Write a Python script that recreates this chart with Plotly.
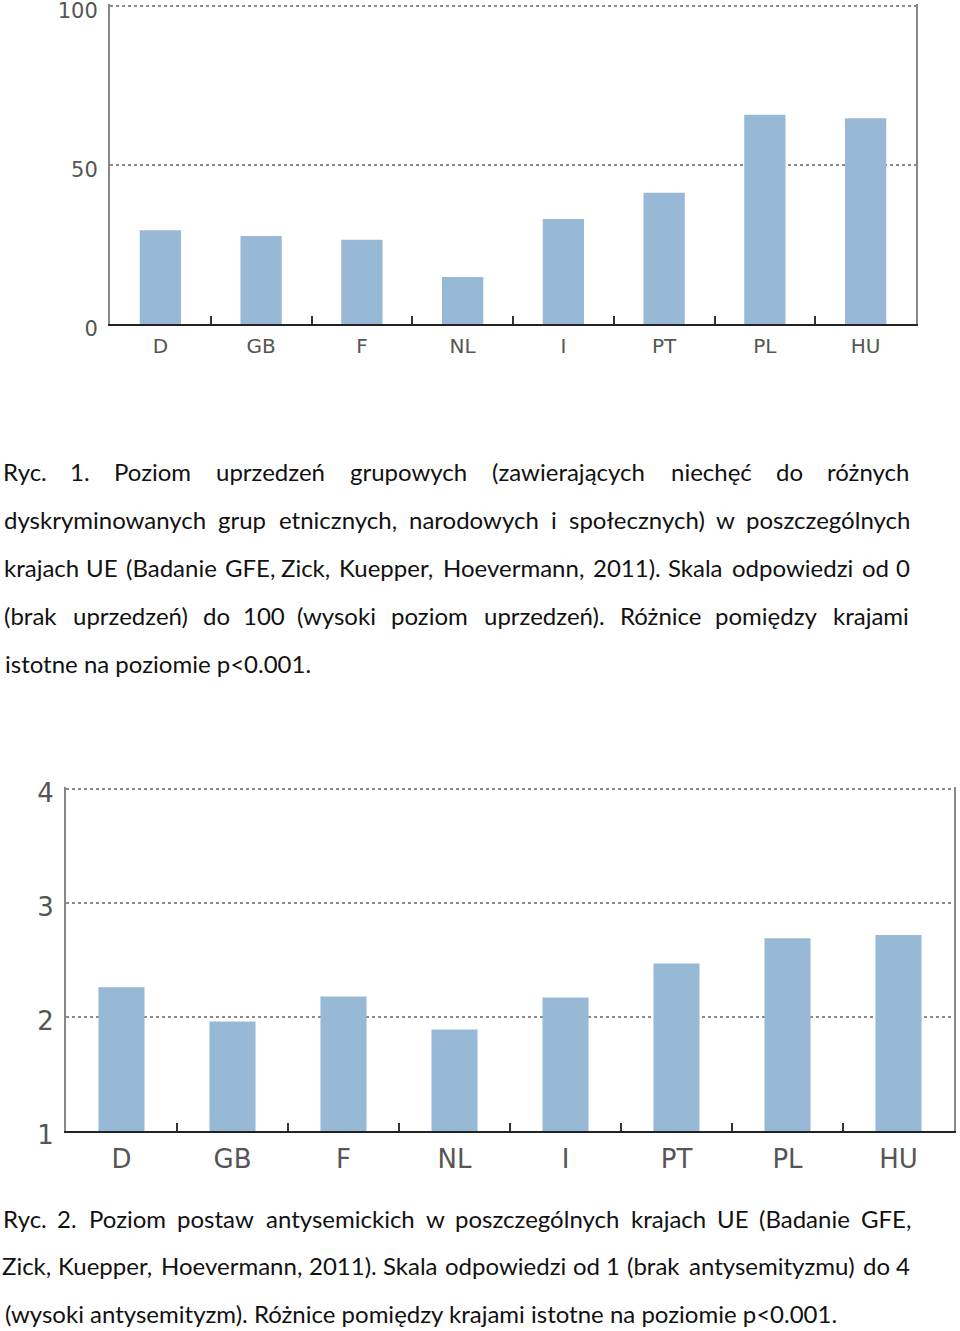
import plotly.graph_objects as go

# ---------------- data ----------------
countries = ["D", "GB", "F", "NL", "I", "PT", "PL", "HU"]
prejudice = [29.5, 27.7, 26.5, 14.8, 33.0, 41.3, 65.8, 64.7]          # Ryc. 1, scale 0-100
antisemitism = [2.26, 1.96, 2.18, 1.89, 2.17, 2.47, 2.69, 2.72]      # Ryc. 2, scale 1-4

y1_ticks = [0, 50, 100]
y2_ticks = [1, 2, 3, 4]

caption1 = [
    "Ryc. 1. Poziom uprzedzeń grupowych (zawierających niechęć do różnych",
    "dyskryminowanych grup etnicznych, narodowych i społecznych) w poszczególnych",
    "krajach UE (Badanie GFE, Zick, Kuepper, Hoevermann, 2011). Skala odpowiedzi od 0",
    "(brak uprzedzeń) do 100 (wysoki poziom uprzedzeń). Różnice pomiędzy krajami",
    "istotne na poziomie p<0.001.",
]
caption2 = [
    "Ryc. 2. Poziom postaw antysemickich w poszczególnych krajach UE (Badanie GFE,",
    "Zick, Kuepper, Hoevermann, 2011). Skala odpowiedzi od 1 (brak antysemityzmu) do 4",
    "(wysoki antysemityzm). Różnice pomiędzy krajami istotne na poziomie p<0.001.",
]

# ---------------- layout helpers ----------------
W, H = 960, 1331
BAR_COLOR = "#98B9D5"
TICK_FONT = "DejaVu Sans"
CAP_FONT = "Lato"

def px_x(x):
    return x / W

def px_y(y):
    return 1 - y / H

# approximate advance widths (em) of the original caption typeface, used to justify lines
CAL = {
    " ": .226, "(": .303, ")": .303, ",": .250, ".": .252, "<": .498,
    "A": .579, "B": .544, "C": .533, "D": .615, "E": .488, "F": .459, "G": .631,
    "H": .623, "K": .520, "P": .517, "R": .543, "S": .459, "U": .642, "Z": .487,
    "a": .479, "b": .525, "c": .423, "d": .525, "e": .498, "f": .305, "g": .471,
    "h": .525, "i": .229, "j": .239, "k": .455, "l": .229, "m": .799, "n": .525,
    "o": .527, "p": .525, "r": .349, "s": .391, "t": .335, "u": .525, "v": .452,
    "w": .715, "y": .453, "z": .395, "ł": .240, "ą": .479, "ę": .498, "ć": .423,
    "ń": .525, "ó": .527, "ż": .395,
}
for d in "0123456789":
    CAL[d] = .507
CAL_SIZE = 26
LEFT, RIGHT = 3, 910

def word_w(w):
    return sum(CAL.get(ch, .5) for ch in w) * CAL_SIZE

annotations = []
CAP_STYLE = dict(family=CAP_FONT, size=24, color="#111")

def add_paragraph(lines, y0, step):
    for i, line in enumerate(lines):
        y = y0 + i * step
        if i == len(lines) - 1:
            annotations.append(dict(
                text=line, x=px_x(LEFT), y=px_y(y), xref="paper", yref="paper",
                xanchor="left", yanchor="middle", showarrow=False, font=CAP_STYLE))
            continue
        words = line.split(" ")
        widths = [word_w(w) for w in words]
        gap = (RIGHT - LEFT - sum(widths)) / (len(words) - 1)
        x = LEFT
        for w, wd in zip(words, widths):
            annotations.append(dict(
                text=w, x=px_x(x + wd / 2), y=px_y(y), xref="paper", yref="paper",
                xanchor="center", yanchor="middle", showarrow=False, font=CAP_STYLE))
            x += wd + gap

add_paragraph(caption1, 471.5, 48)
add_paragraph(caption2, 1218, 47.5)

# ---------------- figure ----------------
fig = go.Figure()
fig.add_trace(go.Bar(x=countries, y=prejudice, xaxis="x", yaxis="y",
                     marker=dict(color=BAR_COLOR, line=dict(width=0)), width=0.41,
                     hoverinfo="x+y"))
fig.add_trace(go.Bar(x=countries, y=antisemitism, xaxis="x2", yaxis="y2",
                     marker=dict(color=BAR_COLOR, line=dict(width=0)), width=0.415,
                     hoverinfo="x+y"))

common_x = dict(
    showline=True, linecolor="#222", linewidth=2, automargin=False,
    ticks="inside", tickson="boundaries", ticklen=8, tickwidth=1.5, tickcolor="#333",
    showgrid=False, zeroline=False, range=[-0.5, 7.5],
)
common_y = dict(
    showgrid=True, gridcolor="#8a8a8a", griddash="dot", gridwidth=2,
    showline=True, linecolor="#888", linewidth=2, mirror=True, automargin=False,
    zeroline=False, ticks="", ticklabeloverflow="allow",
)

# y ranges extend slightly past the top tick so its dotted grid line is drawn
Y1_RANGE = [0, 100.6]
Y2_RANGE = [1, 4.02]

fig.update_layout(
    width=W, height=H,
    margin=dict(l=0, r=0, t=0, b=0),
    paper_bgcolor="white", plot_bgcolor="white",
    showlegend=False,
    xaxis=dict(domain=[px_x(110), px_x(916)], anchor="y",
               tickfont=dict(family=TICK_FONT, size=20, color="#555"),
               ticklabelstandoff=3, **common_x),
    yaxis=dict(domain=[px_y(324), px_y(4.1)], anchor="x", range=Y1_RANGE,
               tickvals=y1_ticks, ticktext=[str(v) for v in y1_ticks],
               tickfont=dict(family=TICK_FONT, size=21, color="#555"),
               ticklabelstandoff=6, ticklabelshift=5, **common_y),
    xaxis2=dict(domain=[px_x(66), px_x(954)], anchor="y2",
                tickfont=dict(family=TICK_FONT, size=26, color="#555"),
                ticklabelstandoff=4, **common_x),
    yaxis2=dict(domain=[px_y(1131), px_y(786.7)], anchor="x2", range=Y2_RANGE,
                tickvals=y2_ticks, ticktext=[str(v) for v in y2_ticks],
                tickfont=dict(family=TICK_FONT, size=26, color="#555"),
                ticklabelstandoff=5, ticklabelshift=4, **common_y),
    annotations=annotations,
)

fig.write_html("out.html")
